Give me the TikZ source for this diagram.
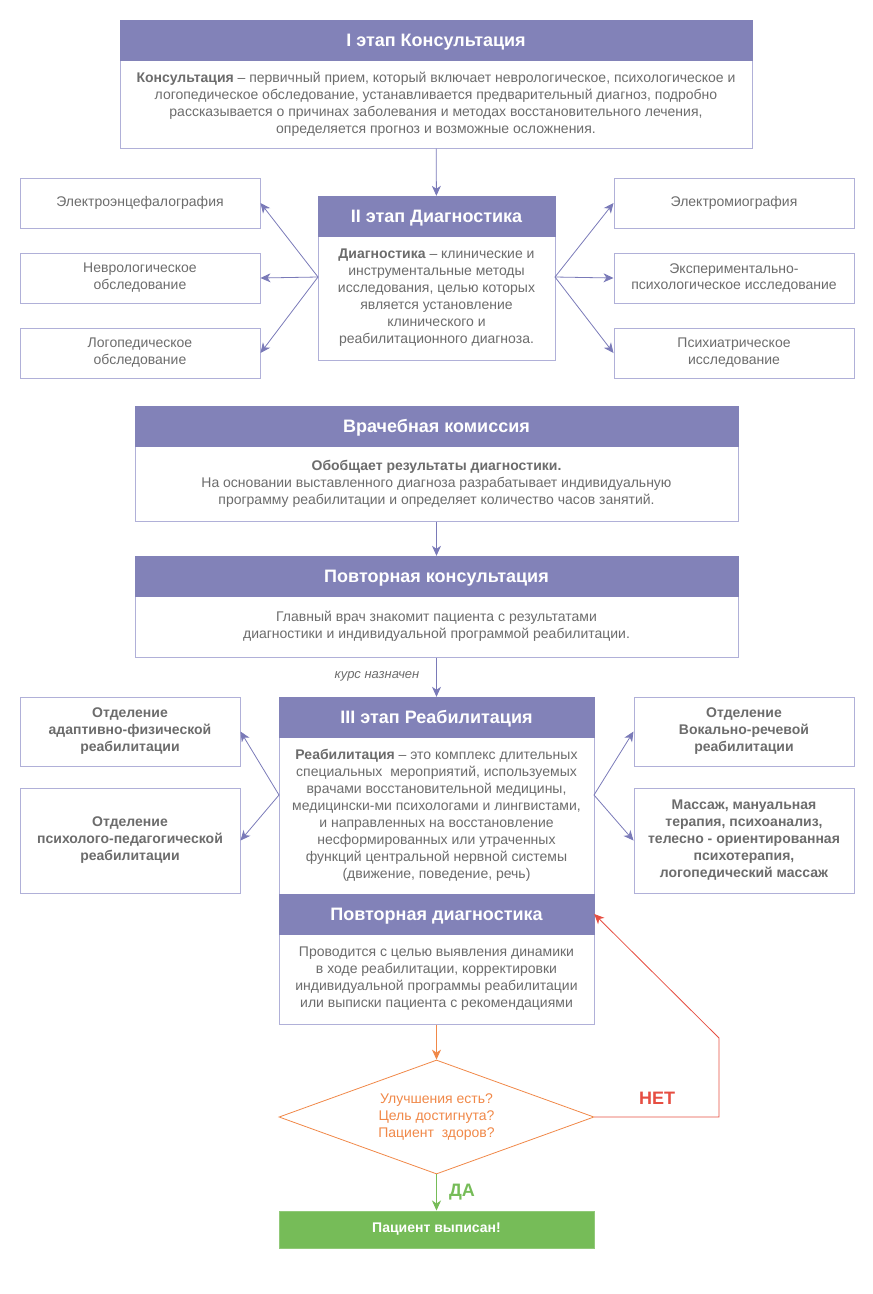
\documentclass[tikz,border=0pt]{standalone}
\usepackage{fontspec}
\setmainfont{Liberation Sans}
\usetikzlibrary{arrows.meta,shapes.geometric}

\definecolor{hdrfill}{RGB}{130,130,184}
\definecolor{boxline}{RGB}{176,176,216}
\definecolor{txtgray}{RGB}{108,108,108}
\definecolor{arrowc}{RGB}{122,122,184}
\definecolor{orangec}{RGB}{240,136,72}
\definecolor{redc}{RGB}{230,78,66}
\definecolor{greenc}{RGB}{118,188,88}

\begin{document}
\begin{tikzpicture}[x=1pt,y=-1pt]
        \tikzstyle{hdr}=[draw=hdrfill,fill=hdrfill,text=white,inner sep=0pt,text height=12pt,text depth=0pt,font=\fontsize{18}{21}\selectfont\bfseries]
        \tikzstyle{txtbox}=[draw=boxline,line width=1pt,fill=white,text=txtgray,align=center,inner sep=0pt,font=\fontsize{14}{17}\selectfont]
        \tikzstyle{sidebox}=[txtbox,minimum width=240,minimum height=50]
        \tikzstyle{depbox}=[txtbox,minimum width=220,font=\fontsize{14}{17}\selectfont\bfseries]
        \tikzstyle{link}=[draw=arrowc,line width=0.8pt,-{Stealth[length=10pt,width=9pt,inset=3pt]}]
        \useasboundingbox (0,0) rectangle (873,1294);

            % I stage
            \node[txtbox,minimum width=632,minimum height=88] (consb) at (436,104) {\textbf{Консультация} – первичный прием, который включает неврологическое, психологическое и\\логопедическое обследование, устанавливается предварительный диагноз, подробно\\рассказывается о причинах заболевания и методах восстановительного лечения,\\определяется прогноз и возможные осложнения.};
            \node[hdr,minimum width=632,minimum height=40] (cons) at (436,40) {I этап Консультация};

            % II stage
            \node[txtbox,minimum width=237,minimum height=124] (diagb) at (436.5,298) {\textbf{Диагностика} – клинические и\\инструментальные методы\\исследования, целью которых\\является установление\\клинического и\\реабилитационного диагноза.};
            \node[hdr,minimum width=237,minimum height=40] (diag) at (436.5,216) {II этап Диагностика};

            \node[sidebox] (eeg) at (140,203) {Электроэнцефалография};
            \node[sidebox] (nevr) at (140,278) {Неврологическое\\обследование};
            \node[sidebox] (logo) at (140,353) {Логопедическое\\обследование};
            \node[sidebox] (emg) at (734,203) {Электромиография};
            \node[sidebox] (expr) at (734,278) {Экспериментально-\\психологическое исследование};
            \node[sidebox] (psy) at (734,353) {Психиатрическое\\исследование};
            \coordinate (dl) at (318,277);
            \coordinate (dr) at (555,277);

            % commission
            \node[txtbox,minimum width=603,minimum height=75] (vkb) at (436.5,483.5) {\textbf{Обобщает результаты диагностики.}\\На основании выставленного диагноза разрабатывает индивидуальную\\программу реабилитации и определяет количество часов занятий.};
            \node[hdr,minimum width=603,minimum height=40] (vk) at (436.5,426) {Врачебная комиссия};

            % repeat consultation
            \node[txtbox,minimum width=603,minimum height=61] (rcb) at (436.5,626.5) {Главный врач знакомит пациента с результатами\\диагностики и индивидуальной программой реабилитации.};
            \node[hdr,minimum width=603,minimum height=40] (rc) at (436.5,576) {Повторная консультация};
            \node[text=txtgray,font=\fontsize{13}{16}\selectfont\itshape] (kurs) at (377,676) {курс назначен};

            % III stage
            \node[txtbox,minimum width=315,minimum height=157] (rehb) at (436.5,815.5) {\textbf{Реабилитация} – это комплекс длительных\\специальных\ \ мероприятий, используемых\\врачами восстановительной медицины,\\медицински-ми психологами и лингвистами,\\и направленных на восстановление\\несформированных или утраченных\\функций центральной нервной системы\\(движение, поведение, речь)};
            \node[hdr,minimum width=315,minimum height=40] (reh) at (436.5,717) {III этап Реабилитация};
            \node[txtbox,minimum width=315,minimum height=90] (rdb) at (436.5,979) {Проводится с целью выявления динамики\\в ходе реабилитации, корректировки\\индивидуальной программы реабилитации\\или выписки пациента с рекомендациями};
            \node[hdr,minimum width=315,minimum height=40] (rd) at (436.5,914) {Повторная диагностика};

            \node[depbox,minimum height=69] (afr) at (130,731.5) {Отделение\\адаптивно-физической\\реабилитации};
            \node[depbox,minimum height=105] (ppr) at (130,840.5) {Отделение\\психолого-педагогической\\реабилитации};
            \node[depbox,minimum height=69] (vrr) at (744,731.5) {Отделение\\Вокально-речевой\\реабилитации};
            \node[depbox,minimum height=105] (mas) at (744,840.5) {Массаж, мануальная\\терапия, психоанализ,\\телесно - ориентированная\\психотерапия,\\логопедический массаж};
            \coordinate (rl) at (279,795);
            \coordinate (rr) at (594,795);

            % decision
            \node[draw=orangec,line width=0.8pt,shape=diamond,aspect=2.76,minimum width=315,minimum height=114,inner sep=0pt,text=orangec,align=center,font=\fontsize{14}{17}\selectfont] (dec) at (436.5,1117) {Улучшения есть?\\Цель достигнута?\\Пациент\ \ здоров?};
            \node[draw=greenc!80!white,fill=greenc,line width=1pt,minimum width=315,minimum height=37,text=white,font=\fontsize{14}{16}\selectfont\bfseries] (out) at (436.5,1229.5) {Пациент выписан!};
            \node[text=redc,font=\fontsize{18}{21}\selectfont\bfseries] (net) at (657,1098) {НЕТ};
            \node[text=greenc,font=\fontsize{18}{21}\selectfont\bfseries] (da) at (462,1192) {ДА};
            \coordinate (nc) at (719,1117);
            \coordinate (nu) at (719,1038);

            \draw[link] (consb) -- (diag);
            \draw[link] (dl) -- (eeg.east);
            \draw[link] (dl) -- (nevr.east);
            \draw[link] (dl) -- (logo.east);
            \draw[link] (dr) -- (emg.west);
            \draw[link] (dr) -- (expr.west);
            \draw[link] (dr) -- (psy.west);
            \draw[link] (vkb) -- (rc);
            \draw[link] (rcb) -- (reh);
            \draw[link] (rl) -- (afr.east);
            \draw[link] (rl) -- (ppr.east);
            \draw[link] (rr) -- (vrr.west);
            \draw[link] (rr) -- (mas.west);
            \draw[link,draw=orangec] (rdb) -- (dec);
            \draw[link,draw=redc] (dec.east) -- (nc) -- (nu) -- (rd.east);
            \draw[link,draw=greenc] (dec) -- (out);
        \end{tikzpicture}
\end{document}
